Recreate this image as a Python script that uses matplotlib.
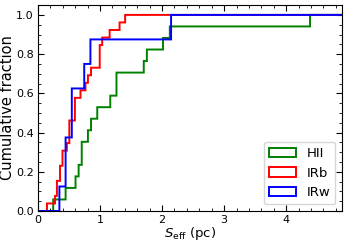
import numpy as np
import matplotlib
matplotlib.use("Agg")
import matplotlib.pyplot as plt
from matplotlib.ticker import MultipleLocator

# effective sizes (pc)
seff_hii = [0.25, 0.45, 0.61, 0.66, 0.71, 0.71, 0.81, 0.86, 0.96, 1.17,
            1.27, 1.27, 1.71, 1.76, 2.02, 2.13, 4.39]
seff_irb = [0.15, 0.28, 0.31, 0.31, 0.36, 0.36, 0.40, 0.40, 0.47, 0.51,
            0.51, 0.51, 0.60, 0.60, 0.60, 0.69, 0.77, 0.81, 0.86, 1.00,
            1.00, 1.00, 1.04, 1.16, 1.32, 1.41]
seff_irw = [0.35, 0.45, 0.45, 0.55, 0.55, 0.75, 0.85, 2.15]

labels = ["HII", "IRb", "IRw"]
colors = ["g", "r", "b"]

fig = plt.figure(figsize=(3.47, 2.43), dpi=100)
ax = fig.add_axes([0.1095, 0.1317, 0.876, 0.8473])

bins = np.arange(-0.005, 6.0, 0.01)
for d, lab, c in zip([seff_hii, seff_irb, seff_irw], labels, colors):
    ax.hist(d, bins=bins, cumulative=True, density=True, histtype="step",
            color=c, lw=1.4, label=lab)

ax.set_xlim(0, 4.9)
ax.set_ylim(0, 1.05)
ax.xaxis.set_major_locator(MultipleLocator(1))
ax.xaxis.set_minor_locator(MultipleLocator(0.2))
ax.yaxis.set_major_locator(MultipleLocator(0.2))
ax.yaxis.set_minor_locator(MultipleLocator(0.05))
ax.tick_params(which="both", direction="in", top=True, right=True, labelsize=8)
ax.tick_params(which="major", length=4, pad=3)
ax.tick_params(which="minor", length=2)

ax.set_xlabel(r"$S_{\rm eff}$ (pc)", fontsize=9.5, labelpad=0)
ax.set_ylabel("Cumulative fraction", fontsize=10.5, labelpad=1)
ax.legend(loc="lower right", fontsize=9.5, handlelength=2.0)

fig.savefig("out.png", dpi=100)
